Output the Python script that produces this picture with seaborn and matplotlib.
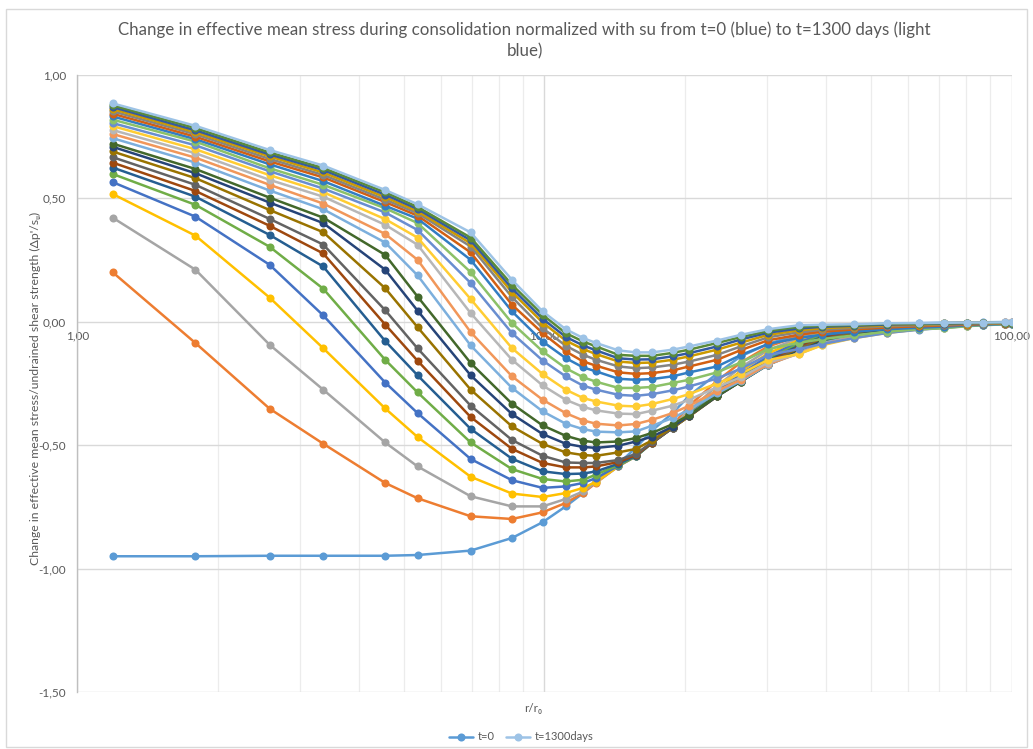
import numpy as np
import pandas as pd
import matplotlib
matplotlib.use("Agg")
import matplotlib.pyplot as plt
import seaborn as sns
from matplotlib.lines import Line2D
from matplotlib.patches import Rectangle
from matplotlib.ticker import FixedLocator, NullFormatter, FuncFormatter

# Normalised radius r/r0 of the output nodes
r_r0 = [1.19, 1.79, 2.58, 3.36, 4.56, 5.35, 6.95, 8.52, 9.91, 11.1,
        12.1, 12.9, 14.4, 15.7, 17.0, 18.8, 20.4, 23.4, 26.3, 30.1,
        35.1, 39.3, 46.0, 54.2, 63.4, 71.6, 80.1, 87.0, 96.7, 100.0]

# Change in mean effective stress / su, one list per output time (t=0 ... t=1300 days)
dp_01 = [-0.950, -0.950, -0.948, -0.948, -0.948, -0.945, -0.927, -0.876, -0.812, -0.748,
         -0.694, -0.640, -0.575, -0.510, -0.440, -0.370, -0.300, -0.210, -0.140, -0.090,
         -0.050, -0.032, -0.020, -0.011, -0.006, -0.004, -0.003, -0.002, -0.001, -0.001]
dp_02 = [0.201, -0.086, -0.352, -0.494, -0.653, -0.715, -0.788, -0.799, -0.772, -0.734,
         -0.694, -0.652, -0.585, -0.540, -0.485, -0.420, -0.340, -0.240, -0.165, -0.100,
         -0.058, -0.037, -0.024, -0.014, -0.008, -0.006, -0.004, -0.003, -0.002, -0.002]
dp_03 = [0.422, 0.211, -0.093, -0.275, -0.489, -0.586, -0.707, -0.748, -0.748, -0.718,
         -0.687, -0.650, -0.585, -0.543, -0.488, -0.425, -0.360, -0.260, -0.185, -0.115,
         -0.066, -0.042, -0.028, -0.017, -0.010, -0.007, -0.005, -0.004, -0.003, -0.002]
dp_04 = [0.518, 0.349, 0.098, -0.107, -0.351, -0.467, -0.628, -0.696, -0.710, -0.694,
         -0.673, -0.648, -0.585, -0.545, -0.490, -0.428, -0.370, -0.275, -0.200, -0.128,
         -0.074, -0.047, -0.032, -0.020, -0.012, -0.009, -0.006, -0.005, -0.003, -0.003]
dp_05 = [0.566, 0.426, 0.231, 0.026, -0.246, -0.370, -0.556, -0.642, -0.673, -0.667,
         -0.653, -0.633, -0.583, -0.545, -0.490, -0.430, -0.375, -0.285, -0.212, -0.140,
         -0.082, -0.052, -0.035, -0.023, -0.014, -0.010, -0.007, -0.005, -0.004, -0.003]
dp_06 = [0.599, 0.474, 0.304, 0.134, -0.154, -0.286, -0.489, -0.597, -0.637, -0.647,
         -0.640, -0.619, -0.580, -0.545, -0.490, -0.430, -0.378, -0.293, -0.222, -0.150,
         -0.089, -0.057, -0.038, -0.026, -0.016, -0.012, -0.008, -0.006, -0.004, -0.004]
dp_07 = [0.625, 0.507, 0.352, 0.224, -0.078, -0.217, -0.434, -0.555, -0.606, -0.617,
         -0.615, -0.606, -0.575, -0.543, -0.490, -0.430, -0.380, -0.298, -0.230, -0.157,
         -0.096, -0.062, -0.041, -0.028, -0.018, -0.013, -0.009, -0.007, -0.005, -0.004]
dp_08 = [0.645, 0.530, 0.389, 0.277, -0.011, -0.158, -0.386, -0.515, -0.572, -0.590,
         -0.590, -0.586, -0.568, -0.540, -0.490, -0.430, -0.382, -0.300, -0.235, -0.163,
         -0.102, -0.066, -0.044, -0.030, -0.019, -0.015, -0.010, -0.007, -0.005, -0.004]
dp_09 = [0.667, 0.555, 0.417, 0.313, 0.047, -0.108, -0.340, -0.479, -0.543, -0.570,
         -0.572, -0.572, -0.560, -0.535, -0.488, -0.430, -0.383, -0.302, -0.240, -0.168,
         -0.108, -0.070, -0.047, -0.032, -0.021, -0.016, -0.011, -0.008, -0.006, -0.005]
dp_10 = [0.690, 0.582, 0.453, 0.363, 0.136, -0.022, -0.275, -0.424, -0.495, -0.529,
         -0.540, -0.543, -0.529, -0.515, -0.480, -0.428, -0.383, -0.302, -0.242, -0.172,
         -0.113, -0.074, -0.050, -0.034, -0.022, -0.017, -0.012, -0.009, -0.006, -0.005]
dp_11 = [0.709, 0.602, 0.483, 0.400, 0.211, 0.045, -0.217, -0.374, -0.455, -0.494,
         -0.507, -0.511, -0.502, -0.485, -0.465, -0.425, -0.380, -0.302, -0.242, -0.174,
         -0.118, -0.078, -0.053, -0.036, -0.024, -0.018, -0.012, -0.009, -0.007, -0.006]
dp_12 = [0.722, 0.619, 0.503, 0.422, 0.271, 0.102, -0.167, -0.332, -0.420, -0.462,
         -0.482, -0.489, -0.485, -0.471, -0.450, -0.415, -0.378, -0.300, -0.242, -0.174,
         -0.122, -0.082, -0.056, -0.038, -0.025, -0.020, -0.013, -0.010, -0.007, -0.006]
dp_13 = [0.744, 0.645, 0.532, 0.456, 0.321, 0.188, -0.096, -0.268, -0.363, -0.413,
         -0.435, -0.445, -0.448, -0.444, -0.421, -0.390, -0.356, -0.290, -0.240, -0.174,
         -0.125, -0.086, -0.059, -0.040, -0.027, -0.021, -0.014, -0.011, -0.008, -0.006]
dp_14 = [0.761, 0.665, 0.555, 0.479, 0.356, 0.251, -0.042, -0.221, -0.316, -0.370,
         -0.400, -0.413, -0.420, -0.414, -0.397, -0.370, -0.340, -0.280, -0.235, -0.172,
         -0.128, -0.090, -0.062, -0.042, -0.028, -0.022, -0.015, -0.011, -0.008, -0.007]
dp_15 = [0.777, 0.683, 0.575, 0.507, 0.393, 0.312, 0.035, -0.154, -0.258, -0.316,
         -0.345, -0.359, -0.372, -0.374, -0.360, -0.340, -0.316, -0.265, -0.225, -0.165,
         -0.130, -0.093, -0.064, -0.044, -0.030, -0.023, -0.016, -0.012, -0.008, -0.007]
dp_16 = [0.793, 0.699, 0.594, 0.525, 0.416, 0.341, 0.092, -0.107, -0.212, -0.275,
         -0.309, -0.323, -0.340, -0.343, -0.333, -0.313, -0.293, -0.250, -0.210, -0.155,
         -0.130, -0.095, -0.066, -0.045, -0.031, -0.024, -0.016, -0.012, -0.009, -0.007]
dp_17 = [0.805, 0.715, 0.610, 0.540, 0.443, 0.372, 0.157, -0.046, -0.157, -0.221,
         -0.259, -0.275, -0.296, -0.300, -0.293, -0.278, -0.262, -0.230, -0.190, -0.135,
         -0.110, -0.090, -0.066, -0.045, -0.032, -0.025, -0.017, -0.013, -0.009, -0.008]
dp_18 = [0.819, 0.730, 0.622, 0.555, 0.460, 0.400, 0.201, -0.005, -0.120, -0.188,
         -0.225, -0.243, -0.268, -0.268, -0.264, -0.248, -0.235, -0.205, -0.165, -0.110,
         -0.085, -0.070, -0.055, -0.040, -0.030, -0.026, -0.018, -0.014, -0.010, -0.008]
dp_19 = [0.832, 0.740, 0.638, 0.570, 0.470, 0.418, 0.251, 0.042, -0.080, -0.147,
         -0.185, -0.201, -0.231, -0.235, -0.232, -0.221, -0.205, -0.181, -0.135, -0.090,
         -0.065, -0.052, -0.040, -0.030, -0.024, -0.020, -0.015, -0.012, -0.009, -0.007]
dp_20 = [0.843, 0.750, 0.650, 0.585, 0.485, 0.430, 0.281, 0.069, -0.046, -0.120,
         -0.161, -0.178, -0.205, -0.211, -0.208, -0.197, -0.181, -0.154, -0.115, -0.075,
         -0.052, -0.040, -0.031, -0.023, -0.018, -0.015, -0.012, -0.009, -0.007, -0.006]
dp_21 = [0.853, 0.760, 0.660, 0.595, 0.495, 0.440, 0.305, 0.100, -0.026, -0.097,
         -0.134, -0.154, -0.181, -0.188, -0.185, -0.174, -0.161, -0.134, -0.100, -0.063,
         -0.042, -0.032, -0.025, -0.018, -0.014, -0.012, -0.009, -0.007, -0.006, -0.005]
dp_22 = [0.862, 0.768, 0.670, 0.605, 0.505, 0.448, 0.318, 0.120, -0.003, -0.076,
         -0.111, -0.131, -0.161, -0.167, -0.165, -0.154, -0.140, -0.113, -0.085, -0.053,
         -0.034, -0.026, -0.020, -0.014, -0.011, -0.009, -0.007, -0.006, -0.005, -0.004]
dp_23 = [0.870, 0.776, 0.678, 0.615, 0.515, 0.457, 0.330, 0.135, 0.012, -0.061,
         -0.096, -0.116, -0.148, -0.153, -0.152, -0.140, -0.127, -0.100, -0.072, -0.044,
         -0.027, -0.020, -0.016, -0.011, -0.009, -0.007, -0.006, -0.005, -0.004, -0.003]
dp_24 = [0.877, 0.785, 0.686, 0.623, 0.525, 0.465, 0.341, 0.150, 0.028, -0.046,
         -0.080, -0.100, -0.134, -0.138, -0.138, -0.126, -0.113, -0.086, -0.062, -0.037,
         -0.020, -0.016, -0.013, -0.008, -0.007, -0.006, -0.004, -0.004, -0.003, -0.003]
dp_25 = [0.885, 0.794, 0.696, 0.633, 0.534, 0.476, 0.362, 0.170, 0.042, -0.030,
         -0.066, -0.086, -0.116, -0.124, -0.124, -0.113, -0.100, -0.076, -0.053, -0.030,
         -0.014, -0.012, -0.010, -0.006, -0.005, -0.004, -0.003, -0.003, -0.002, -0.002]

series_values = [dp_01, dp_02, dp_03, dp_04, dp_05, dp_06, dp_07, dp_08, dp_09, dp_10,
                 dp_11, dp_12, dp_13, dp_14, dp_15, dp_16, dp_17, dp_18, dp_19, dp_20,
                 dp_21, dp_22, dp_23, dp_24, dp_25]
series_names = ["t=0"] + [f"step {i:02d}" for i in range(2, 25)] + ["t=1300days"]

# Office-style series colours
series_colors = ["#5B9BD5", "#ED7D31", "#A5A5A5", "#FFC000", "#4472C4", "#70AD47",
                 "#255E91", "#9E480E", "#636363", "#997300", "#264478", "#43682B",
                 "#7CAFDD", "#F1975A", "#B7B7B7", "#FFCD33", "#698ED0", "#8CC168",
                 "#327DC2", "#D26012", "#848484", "#CC9A00", "#335AA1", "#5A8A39",
                 "#9DC3E6"]

df = pd.concat(
    [pd.DataFrame({"r": r_r0, "dp": vals, "series": name})
     for name, vals in zip(series_names, series_values)],
    ignore_index=True)

sns.set_theme(style="white")
plt.rcParams["font.family"] = ["Lato", "DejaVu Sans"]
text_grey = "#595959"

fig = plt.figure(figsize=(10.33, 7.49), dpi=100)
ax = fig.add_axes([0.0748, 0.0761, 0.9046, 0.8238])

sns.lineplot(data=df, x="r", y="dp", hue="series", hue_order=series_names,
             palette=series_colors, marker="o", markersize=5.8, markeredgewidth=0,
             linewidth=1.8, sort=False, estimator=None, legend=False, ax=ax, zorder=3)

ax.set_xscale("log")
ax.set_xlim(1, 100)
ax.set_ylim(-1.5, 1.0)

# grid: horizontal every 0.5, vertical major/minor decades
ax.yaxis.set_major_locator(FixedLocator([-1.5, -1.0, -0.5, 0.0, 0.5, 1.0]))
ax.xaxis.set_major_locator(FixedLocator([1, 10, 100]))
ax.xaxis.set_minor_locator(FixedLocator([2, 3, 4, 5, 6, 7, 8, 9,
                                         20, 30, 40, 50, 60, 70, 80, 90]))
ax.xaxis.set_major_formatter(NullFormatter())
ax.xaxis.set_minor_formatter(NullFormatter())
ax.grid(True, axis="y", color="#D9D9D9", linewidth=1.0, zorder=0)
ax.grid(True, axis="x", which="major", color="#D9D9D9", linewidth=1.0, zorder=0)
ax.grid(True, axis="x", which="minor", color="#ECECEC", linewidth=0.9, zorder=0)
ax.set_axisbelow(True)
ax.tick_params(axis="both", which="both", length=0)
ax.tick_params(axis="y", colors=text_grey, labelsize=8.5, pad=8)
ax.yaxis.set_major_formatter(FuncFormatter(lambda v, p: f"{v:.2f}".replace(".", ",")))

for side in ["top", "right", "bottom"]:
    ax.spines[side].set_visible(False)
ax.spines["left"].set_color("#BFBFBF")
ax.spines["left"].set_linewidth(1.0)

ax.set_xlabel("")
ax.set_ylabel("")

# category labels sit on the horizontal axis, which crosses at zero
for xv, lab in [(1, "1,00"), (10, "10,00"), (100, "100,00")]:
    ax.annotate(lab, xy=(xv, 0), xytext=(0, -10), textcoords="offset points",
                ha="center", va="center", fontsize=8.5, color=text_grey, zorder=1)

fig.text(0.508, 1 - 40 / 749,
         "Change in effective mean stress during consolidation normalized with su from t=0 (blue) to t=1300 days (light\nblue)",
         ha="center", va="center", fontsize=12.2, color=text_grey, linespacing=1.4)

fig.text(35 / 1033, 1 - 388 / 749,
         "Change in effective mean stress/undrained shear strength (Δp'/sᵤ)",
         rotation=90, ha="center", va="center", fontsize=8.8, color=text_grey)

fig.text(533 / 1033, 1 - 708 / 749, "r/r₀", ha="center", va="center",
         fontsize=8.5, color=text_grey)

handles = [Line2D([0], [0], color=series_colors[0], marker="o", markersize=5.8,
                  markeredgewidth=0, linewidth=1.8),
           Line2D([0], [0], color=series_colors[-1], marker="o", markersize=5.8,
                  markeredgewidth=0, linewidth=1.8)]
fig.legend(handles, ["t=0", "t=1300days"], loc="center",
           bbox_to_anchor=(521 / 1033, 1 - 737 / 749), ncol=2, frameon=False,
           fontsize=8, labelcolor=text_grey, handlelength=2.2, columnspacing=1.0,
           handletextpad=0.4)

fig.add_artist(Rectangle((6 / 1033, 2 / 749), 1021 / 1033, 738 / 749,
                         transform=fig.transFigure, fill=False,
                         edgecolor="#D9D9D9", linewidth=1.0))

fig.savefig("out.png", dpi=100)
